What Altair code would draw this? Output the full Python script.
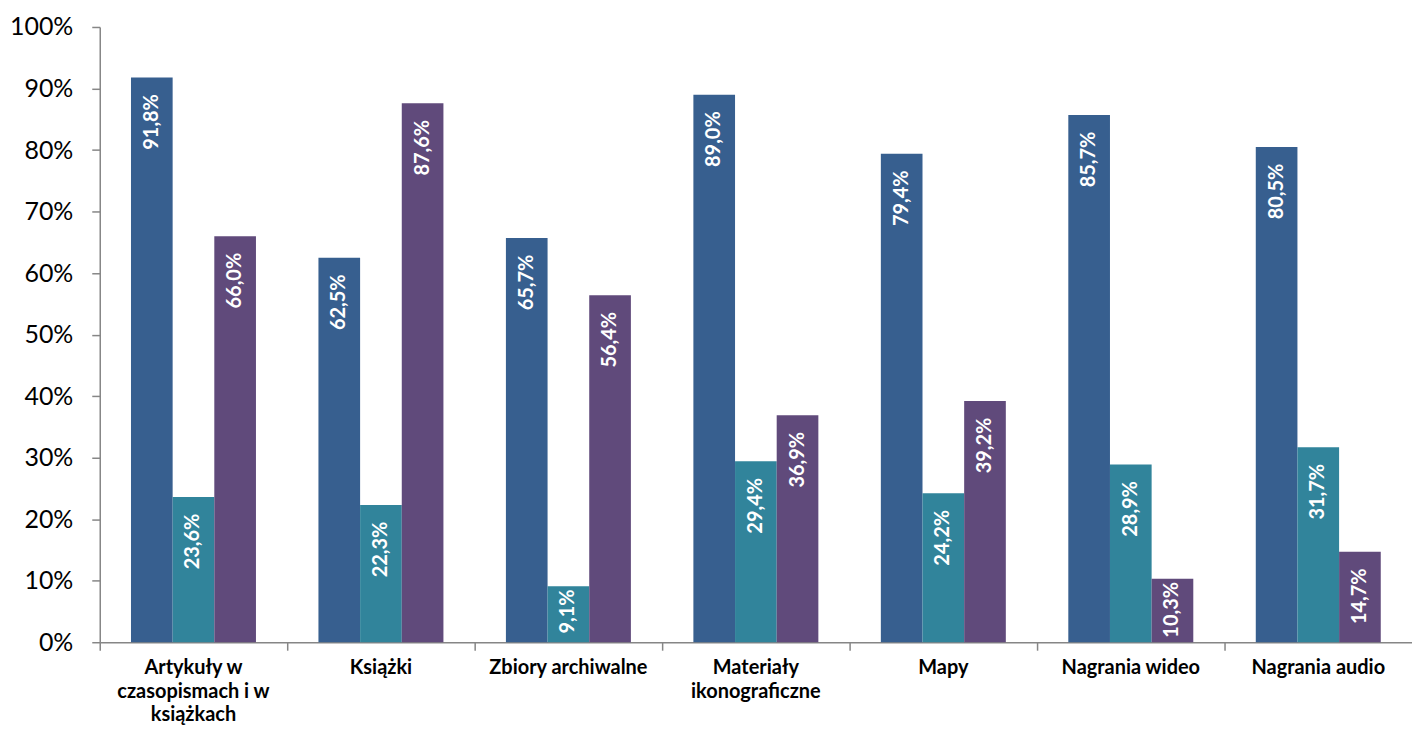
import altair as alt
import pandas as pd

categories = ["Artykuły w|czasopismach i w|książkach", "Książki", "Zbiory archiwalne",
              "Materiały|ikonograficzne", "Mapy", "Nagrania wideo", "Nagrania audio"]
series_names = ["Seria 1", "Seria 2", "Seria 3"]
s1 = [91.8, 62.5, 65.7, 89.0, 79.4, 85.7, 80.5]
s2 = [23.6, 22.3, 9.1, 29.4, 24.2, 28.9, 31.7]
s3 = [66.0, 87.6, 56.4, 36.9, 39.2, 10.3, 14.7]
colors = ["#375F8F", "#31849B", "#604A7B"]
y_ticks = [0, 10, 20, 30, 40, 50, 60, 70, 80, 90, 100]

rows = []
for name, vals in zip(series_names, [s1, s2, s3]):
    for c, v in zip(categories, vals):
        rows.append({"cat": c, "series": name, "v": v})
df = pd.DataFrame(rows)

W = 1316
H = 617

x = alt.X("cat:N", sort=categories, title=None,
          scale=alt.Scale(paddingInner=0, paddingOuter=0),
          axis=alt.Axis(bandPosition=0, labelAngle=0,
                        labelExpr="split(datum.label, '|')",
                        labelFont="Lato", labelFontSize=20, labelFontWeight="bold",
                        labelColor="#000000", labelLineHeight=24, labelBaseline="top",
                        labelPadding=7, tickSize=8, tickColor="#868686", tickWidth=1.5,
                        domainColor="#868686", domainWidth=1.5, labelLimit=300))
xo = alt.XOffset("series:N", sort=series_names,
                 scale=alt.Scale(paddingInner=0, paddingOuter=0.75))

base = alt.Chart(df)

bars = base.mark_bar().encode(
    x=x, xOffset=xo,
    y=alt.Y("v:Q", title=None,
            scale=alt.Scale(domain=[0, 100], nice=False),
            axis=alt.Axis(values=y_ticks, labelExpr="datum.value + '%'",
                          grid=False, labelFont="Lato", labelFontSize=25,
                          labelColor="#000000", labelPadding=19, tickSize=8,
                          tickColor="#868686", tickWidth=1.5,
                          domainColor="#868686", domainWidth=1.5)),
    color=alt.Color("series:N", sort=series_names,
                    scale=alt.Scale(domain=series_names, range=colors), legend=None),
)

labels = base.transform_calculate(
    ly="datum.v > 12 ? datum.v - 2.7 : datum.v - 0.5",
    txt="replace(format(datum.v, '.1f'), '.', ',') + '%'",
).mark_text(angle=270, align="right", baseline="middle", color="white",
            font="Lato", fontSize=20, fontWeight="bold").encode(
    x=alt.X("cat:N", sort=categories),
    xOffset=xo,
    y=alt.Y("ly:Q"),
    text="txt:N",
)

chart = alt.layer(bars, labels).properties(
    width=W, height=H,
    autosize=alt.AutoSizeParams(type="none"),
    padding={"left": 92, "top": 18, "right": 0, "bottom": 90},
).configure_view(stroke=None)

chart.save("out.html", embed_options={"renderer": "svg", "actions": False})
